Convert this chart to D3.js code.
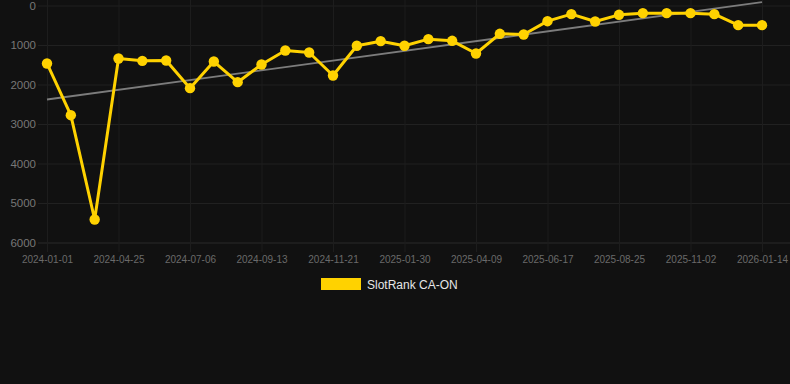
<!DOCTYPE html>
<html>
<head>
<meta charset="utf-8">
<script src="https://cdn.jsdelivr.net/npm/d3@7"></script>
<style>
html,body{margin:0;padding:0;background:#111111;}
svg{display:block;font-family:"Liberation Sans",Arial,Helvetica,sans-serif;}
</style>
</head>
<body>
<svg id="chart" width="790" height="384"></svg>
<script>
const categories = [
  "2024-01-01","2024-02-08","2024-03-17","2024-04-25","2024-05-19","2024-06-12",
  "2024-07-06","2024-07-29","2024-08-21","2024-09-13","2024-10-06","2024-10-29",
  "2024-11-21","2024-12-14","2025-01-06","2025-01-30","2025-02-22","2025-03-17",
  "2025-04-09","2025-05-02","2025-05-25","2025-06-17","2025-07-10","2025-08-02",
  "2025-08-25","2025-09-17","2025-10-10","2025-11-02","2025-11-26","2025-12-20",
  "2026-01-14"
];
const rankValues = [
  1468, 2777, 5418, 1342, 1401, 1392,
  2093, 1418, 1941, 1494, 1139, 1190,
  1772, 1020, 903, 1020, 852, 894,
  1215, 717, 734, 397, 219, 405,
  236, 194, 194, 194, 219, 498,
  498
];
const trendValues = [2380, -84]; // trend line at first and last category
const xTickLabels = ["2024-01-01","2024-04-25","2024-07-06","2024-09-13","2024-11-21",
  "2025-01-30","2025-04-09","2025-06-17","2025-08-25","2025-11-02","2026-01-14"];
const yTicks = [0,1000,2000,3000,4000,5000,6000];
const seriesName = "SlotRank CA-ON";

const svg = d3.select("#chart");
const x = d3.scalePoint().domain(categories).range([47, 762]);
const y = d3.scaleLinear().domain([0, 6000]).range([5.5, 242.5]);

// horizontal grid + y labels
const yAxis = d3.axisLeft(y).tickValues(yTicks).tickSize(-(790 - 38)).tickPadding(2).tickFormat(d3.format("d"));
const gy = svg.append("g").attr("transform", "translate(38,0)").call(yAxis);
gy.select(".domain").remove();
gy.selectAll(".tick line").attr("stroke", "#212121").attr("stroke-width", 1);
gy.selectAll(".tick").filter(d => d === 6000).select("line").attr("stroke", "#2a2a2a");
gy.selectAll(".tick text").attr("fill", "#777777").attr("font-size", "11.5px").attr("x", -2);

// vertical grid + x labels
const xAxis = d3.axisBottom(x).tickValues(xTickLabels).tickSize(252).tickPadding(4);
const gx = svg.append("g").attr("transform", "translate(0,0)").call(xAxis);
gx.select(".domain").remove();
gx.selectAll(".tick line").attr("stroke", "#1d1d1d").attr("stroke-width", 1);
gx.selectAll(".tick text").attr("fill", "#6a6a6a").attr("font-size", "10px").attr("y", 256);

// trend line
const trendPts = [[categories[0], trendValues[0]], [categories[categories.length - 1], trendValues[1]]];
svg.append("path")
  .datum(trendPts)
  .attr("fill", "none")
  .attr("stroke", "#7c7c7c")
  .attr("stroke-width", 1.8)
  .attr("d", d3.line().x(d => x(d[0])).y(d => y(d[1])));

// series line
const data = categories.map((c, i) => ({c, v: rankValues[i]}));
svg.append("path")
  .datum(data)
  .attr("fill", "none")
  .attr("stroke", "#FFD200")
  .attr("stroke-width", 3)
  .attr("stroke-linejoin", "round")
  .attr("d", d3.line().x(d => x(d.c)).y(d => y(d.v)));

svg.append("g").selectAll("circle")
  .data(data)
  .join("circle")
  .attr("cx", d => x(d.c))
  .attr("cy", d => y(d.v))
  .attr("r", 5.2)
  .attr("fill", "#FFD200");

// legend
const lg = svg.append("g");
lg.append("rect").attr("x", 321).attr("y", 278).attr("width", 40).attr("height", 12).attr("fill", "#FFD200");
lg.append("text").attr("x", 367).attr("y", 289).attr("fill", "#e6e6e6").attr("font-size", "12px").text(seriesName);
</script>
</body>
</html>
